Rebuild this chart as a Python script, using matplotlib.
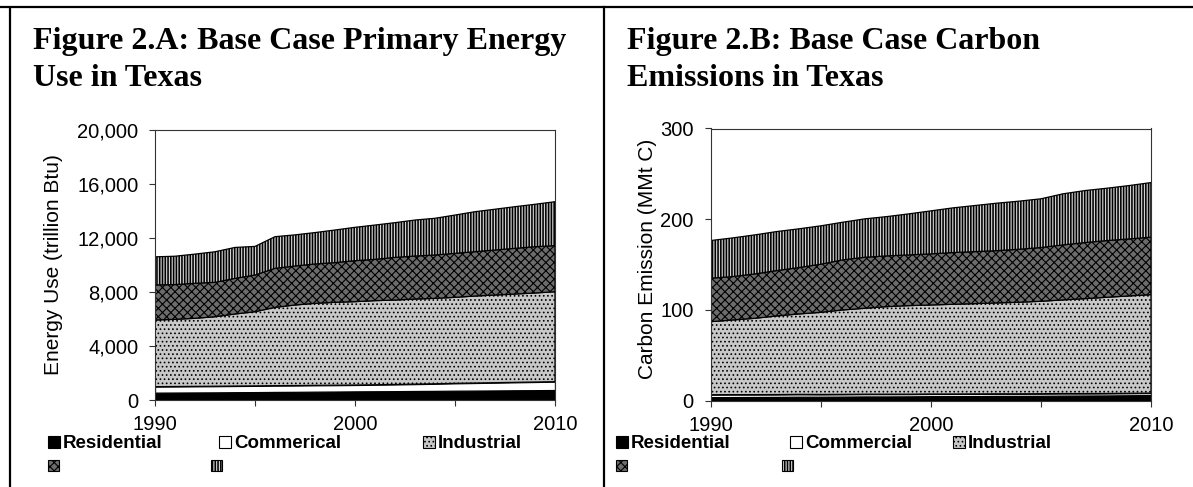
import matplotlib
matplotlib.use("Agg")
import matplotlib.pyplot as plt
import numpy as np
from matplotlib.patches import Rectangle
from matplotlib.lines import Line2D
from matplotlib.ticker import FuncFormatter

years = list(range(1990, 2011))

# Figure 2.A - primary energy use by sector (trillion Btu)
energy_residential = [545, 552, 560, 566, 578, 585, 598, 605, 618, 627, 640,
                      648, 656, 668, 676, 690, 698, 708, 720, 728, 740]
energy_commercial = [445, 448, 452, 455, 458, 462, 465, 467, 469, 470, 471,
                     482, 495, 508, 525, 545, 560, 575, 590, 605, 618]
energy_industrial = [4940, 4975, 5040, 5150, 5335, 5495, 5800, 5965, 6075, 6140, 6175,
                     6230, 6255, 6305, 6330, 6370, 6445, 6495, 6540, 6595, 6665]
energy_fourth = [2595, 2575, 2595, 2545, 2640, 2715, 2890, 2890, 2915, 2940, 3035,
                 3060, 3160, 3185, 3210, 3260, 3285, 3335, 3385, 3430, 3410]
energy_fifth = [2080, 2100, 2160, 2265, 2290, 2120, 2345, 2305, 2325, 2415, 2470,
                2540, 2570, 2665, 2720, 2835, 2960, 3020, 3085, 3140, 3255]

# Figure 2.B - carbon emissions by sector (MMt C)
carbon_residential = [3.9, 4.0, 4.1, 4.2, 4.4, 4.4, 4.5, 4.7, 4.7, 4.8, 5.0,
                      5.0, 5.1, 5.3, 5.3, 5.4, 5.6, 5.7, 5.8, 6.0, 6.2]
carbon_commercial = [2.7, 2.7, 2.6, 2.6, 2.6, 2.5, 2.5, 2.5, 2.5, 2.4, 2.4,
                     2.4, 2.4, 2.3, 2.3, 2.3, 2.3, 2.2, 2.2, 2.2, 2.2]
carbon_industrial = [80.5, 82.3, 84.1, 86.6, 88.6, 90.5, 93.0, 94.7, 96.5, 97.6, 98.1,
                     98.9, 99.5, 100.2, 100.9, 101.9, 103.2, 104.6, 106.0, 107.3, 108.5]
carbon_fourth = [47.9, 47.8, 48.9, 50.0, 51.1, 53.0, 55.2, 56.2, 55.9, 55.9, 56.3,
                 57.0, 57.3, 57.6, 58.4, 59.2, 60.6, 61.8, 62.5, 62.8, 63.3]
carbon_fifth = [41.5, 42.6, 43.0, 43.0, 42.7, 42.3, 41.5, 42.3, 43.3, 45.2, 47.4,
                49.2, 50.8, 52.3, 53.0, 53.7, 56.3, 57.3, 57.7, 58.8, 60.2]

labels_a = ["Residential", "Commerical", "Industrial", "", ""]
labels_b = ["Residential", "Commercial", "Industrial", "", ""]

title_a = ["Figure 2.A: Base Case Primary Energy", "Use in Texas"]
title_b = ["Figure 2.B: Base Case Carbon", "Emissions in Texas"]
ylabel_a = "Energy Use (trillion Btu)"
ylabel_b = "Carbon Emission (MMt C)"
xtick_labels = ["1990", "2000", "2010"]

# fill styles for the five stacked bands (bottom to top)
styles = [
    dict(facecolor="black", hatch=None, hlw=0.8),
    dict(facecolor="white", hatch=None, hlw=0.8),
    dict(facecolor="#c8c8c8", hatch="....", hlw=0.7),
    dict(facecolor="#6c6c6c", hatch="xxxx", hlw=0.8),
    dict(facecolor="#d2d2d2", hatch="||||||", hlw=1.15),
]

plt.rcParams["hatch.color"] = "black"

W, H = 1193, 487
fig = plt.figure(figsize=(W / 100, H / 100), dpi=100)

SANS = "Liberation Sans"
SERIF = "Liberation Serif"


def fx(px):
    return px / W


def fy(py):
    return 1 - py / H


def draw_panel(rect, series, ymax, yticks, ylabel, ylabel_x, ylabel_y):
    ax = fig.add_axes(rect)
    base = np.zeros(len(years))
    for vals, st in zip(series, styles):
        top = base + np.array(vals, dtype=float)
        with plt.rc_context({"hatch.linewidth": st["hlw"]}):
            ax.fill_between(years, base, top, facecolor=st["facecolor"],
                            hatch=st["hatch"], edgecolor="black", linewidth=0.9)
        base = top
    ax.set_xlim(years[0], years[-1])
    ax.set_ylim(0, ymax)
    ax.set_xticks([1990, 2000, 2010])
    ax.set_xticklabels(xtick_labels)
    ax.set_xticks([1995, 2005], minor=True)
    ax.set_yticks(yticks)
    ax.yaxis.set_major_formatter(FuncFormatter(lambda v, p: f"{v:,.0f}"))
    ax.tick_params(axis="both", which="both", direction="out", length=4,
                   width=0.8, color="#333333")
    ax.tick_params(axis="y", pad=8)
    ax.tick_params(axis="x", pad=7)
    for lab in ax.get_xticklabels() + ax.get_yticklabels():
        lab.set_fontfamily(SANS)
        lab.set_fontsize(14.5)
    for sp in ax.spines.values():
        sp.set_linewidth(0.8)
        sp.set_color("#333333")
    ax.set_ylabel(ylabel, fontfamily=SANS, fontsize=15)
    ax.yaxis.label.set_va("center")
    ax.yaxis.set_label_coords(ylabel_x, ylabel_y)
    return ax


draw_panel([fx(155), fy(400), fx(555) - fx(155), fy(130) - fy(400)],
           [energy_residential, energy_commercial, energy_industrial,
            energy_fourth, energy_fifth],
           20000, [0, 4000, 8000, 12000, 16000, 20000],
           ylabel_a, -0.2525, 0.5)

draw_panel([fx(710.5), fy(400.7), fx(1151) - fx(710.5), fy(128.5) - fy(400.7)],
           [carbon_residential, carbon_commercial, carbon_industrial,
            carbon_fourth, carbon_fifth],
           300, [0, 100, 200, 300],
           ylabel_b, -0.143, 0.52)

# titles
for x0, lines in [(33, title_a), (627, title_b)]:
    for i, line in enumerate(lines):
        fig.text(fx(x0), fy(49 + 37 * i), line, fontfamily=SERIF,
                 fontweight="bold", fontsize=23, va="baseline", ha="left")

# legends below each panel
legend_slots = [
    [(48, 436, 12), (219, 436, 12), (423, 436, 12), (48, 460, 11), (211, 460, 11)],
    [(616, 436, 12), (790, 436, 12), (953, 436, 12), (616, 460, 11), (782, 460, 11)],
]
for slots, labels in zip(legend_slots, [labels_a, labels_b]):
    for (px, py, sz), lab, st in zip(slots, labels, styles):
        with plt.rc_context({"hatch.linewidth": st["hlw"]}):
            box = Rectangle((fx(px), fy(py + sz)), fx(sz), sz / H,
                            transform=fig.transFigure, facecolor=st["facecolor"],
                            hatch=st["hatch"], edgecolor="black", linewidth=0.8)
        fig.add_artist(box)
        if lab:
            fig.text(fx(px + 15), fy(py + 12), lab, fontfamily=SANS,
                     fontweight="bold", fontsize=13.5, va="baseline", ha="left")

# page frame lines
frame_kw = dict(transform=fig.transFigure, color="black", linewidth=1.6)
fig.add_artist(Line2D([0, 1], [fy(7), fy(7)], **frame_kw))
fig.add_artist(Line2D([fx(10), fx(10)], [fy(9), 0], **frame_kw))
fig.add_artist(Line2D([fx(604), fx(604)], [fy(7), 0], **frame_kw))

fig.savefig("out.png", dpi=100)
